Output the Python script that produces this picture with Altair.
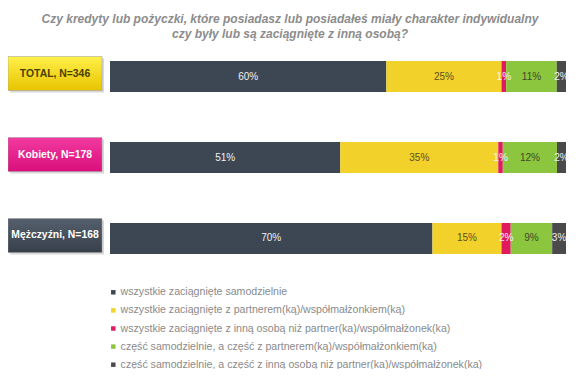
import altair as alt
import pandas as pd

groups = ["TOTAL, N=346", "Kobiety, N=178", "Mężczyźni, N=168"]
categories = [
    "wszystkie zaciągnięte samodzielnie",
    "wszystkie zaciągnięte z partnerem(ką)/współmałżonkiem(ką)",
    "wszystkie zaciągnięte z inną osobą niż partner(ka)/współmałżonek(ka)",
    "część samodzielnie, a część z partnerem(ką)/współmałżonkiem(ką)",
    "część samodzielnie, a część z inną osobą niż partner(ka)/współmałżonek(ka)",
]
values_total = [60, 25, 1, 11, 2]
values_kobiety = [51, 35, 1, 12, 2]
values_mezczyzni = [70, 15, 2, 9, 3]

colors = ["#3d4754", "#f2d12a", "#df1a5f", "#8cc63e", "#4a4a4c"]
label_colors = ["#f0f0f0", "#5a5020", "#f4f4f4", "#3e4a28", "#f0f0f0"]
box_colors = [("#fff04a", "#e8c400"), ("#f23aa0", "#d90f7c"), ("#56606c", "#363f4a")]
box_text_colors = ["#4a4000", "#ffffff", "#ffffff"]

rows = []
for g, vals in zip(groups, [values_total, values_kobiety, values_mezczyzni]):
    for i, (c, v) in enumerate(zip(categories, vals)):
        rows.append({"group": g, "category": c, "value": v, "order": i,
                     "label": f"{v}%", "tcolor": label_colors[i]})
df = pd.DataFrame(rows)
boxes = pd.DataFrame({"group": groups, "tcolor": box_text_colors})

yscale = alt.Scale(domain=groups, range=[8, 201], paddingInner=0.617, paddingOuter=0)
xscale = alt.Scale(domain=[0, 1], range=[102, 558])
Y = alt.Y("group:N", scale=yscale, axis=None, sort=groups)

base = alt.Chart(df).transform_stack(
    stack="value", as_=["x0", "x1"], groupby=["group"],
    sort=[alt.SortField("order", order="ascending")], offset="normalize"
).transform_calculate(mid="(datum.x0 + datum.x1) / 2")

bars = base.mark_bar().encode(
    x=alt.X("x0:Q", scale=xscale, axis=None),
    x2="x1:Q",
    y=Y,
    color=alt.Color("category:N", scale=alt.Scale(domain=categories, range=colors),
                    sort=categories,
                    legend=alt.Legend(title=None, orient="none", legendX=100, legendY=234,
                                      symbolType="square", symbolSize=20, symbolStrokeWidth=0,
                                      labelFont="Liberation Sans", labelFontSize=10.6,
                                      labelColor="#8a8a8a", rowPadding=7.1, labelLimit=500,
                                      labelOffset=2)),
)

texts = base.mark_text(font="Liberation Sans", fontSize=10).encode(
    x=alt.X("mid:Q", scale=xscale, axis=None),
    y=Y,
    text="label:N",
    color=alt.Color("tcolor:N", scale=None),
)

layers = [bars, texts]

shadow = alt.Chart(boxes).mark_bar(color="#c8c8c8", opacity=0.7, height=34, yOffset=-1).encode(
    x=alt.value(2), x2=alt.value(96), y=Y)
layers.append(shadow)

for g, (c1, c2) in zip(groups, box_colors):
    box = alt.Chart(boxes).transform_filter(alt.datum.group == g).mark_bar(
        height=34, yOffset=-3, stroke="#9a9a9a", strokeWidth=0.5,
        color=alt.Gradient(gradient="linear", x1=0, x2=0, y1=0, y2=1,
                           stops=[alt.GradientStop(color=c1, offset=0),
                                  alt.GradientStop(color=c2, offset=1)])
    ).encode(x=alt.value(0), x2=alt.value(94), y=Y)
    layers.append(box)

box_text = alt.Chart(boxes).mark_text(font="Liberation Sans", fontSize=10.4, fontWeight="bold", dy=-3).encode(
    x=alt.value(47), y=Y, text="group:N", color=alt.Color("tcolor:N", scale=None))
layers.append(box_text)

chart = alt.layer(*layers).properties(
    width=564, height=316,
    autosize=alt.AutoSizeParams(type="none"),
    padding={"top": 45, "left": 0, "right": 0, "bottom": 0},
    title=alt.TitleParams(
        text=["Czy kredyty lub pożyczki, które posiadasz lub posiadałeś miały charakter indywidualny",
              "czy były lub są zaciągnięte z inną osobą?"],
        font="Liberation Sans", fontSize=12, fontStyle="italic", fontWeight="bold",
        color="#8c8c8c", anchor="middle", offset=12, lineHeight=15),
).configure_view(stroke=None)

chart.save("out.html", embed_options={"renderer": "svg", "actions": False})
